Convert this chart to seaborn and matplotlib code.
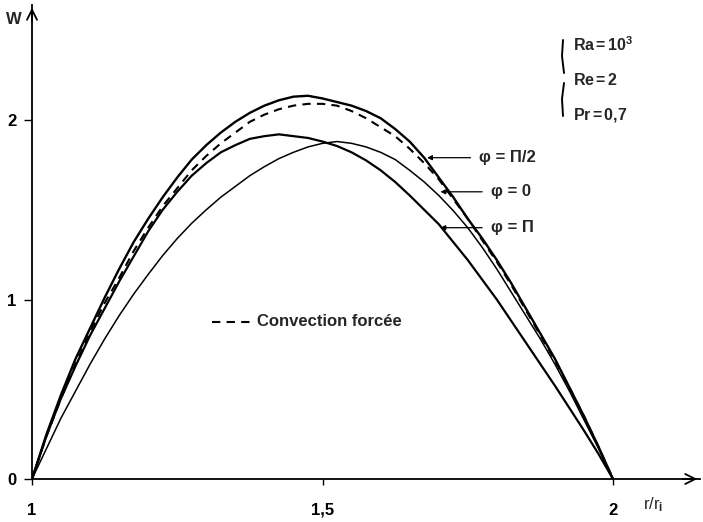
import numpy as np
import pandas as pd
import matplotlib
matplotlib.use("Agg")
import matplotlib.pyplot as plt
import seaborn as sns

# ---- data (r/ri, W) ----
r = [1.000, 1.025, 1.050, 1.075, 1.100, 1.125, 1.150, 1.175, 1.200, 1.225,
     1.250, 1.275, 1.300, 1.325, 1.350, 1.375, 1.400, 1.425, 1.450, 1.475,
     1.500, 1.525, 1.550, 1.575, 1.600, 1.625, 1.650, 1.675, 1.700, 1.725,
     1.750, 1.775, 1.800, 1.825, 1.850, 1.875, 1.900, 1.925, 1.950, 1.975,
     2.000]
w_phi_pi2 = [0.00, 0.25, 0.47, 0.67, 0.84, 1.01, 1.17, 1.32, 1.45, 1.57,
             1.68, 1.78, 1.86, 1.93, 1.99, 2.04, 2.08, 2.11, 2.13, 2.135,
             2.12, 2.10, 2.08, 2.05, 2.01, 1.95, 1.88, 1.79, 1.68, 1.57,
             1.45, 1.34, 1.22, 1.09, 0.95, 0.81, 0.67, 0.51, 0.35, 0.18,
             0.00]
w_forced = [0.00, 0.24, 0.45, 0.64, 0.82, 0.98, 1.12, 1.27, 1.40, 1.52,
            1.62, 1.72, 1.80, 1.87, 1.93, 1.99, 2.03, 2.06, 2.08, 2.09,
            2.09, 2.08, 2.05, 2.01, 1.96, 1.91, 1.84, 1.76, 1.67, 1.56,
            1.45, 1.33, 1.21, 1.08, 0.94, 0.80, 0.66, 0.51, 0.35, 0.18,
            0.00]
w_phi_0 = [0.00, 0.17, 0.34, 0.49, 0.64, 0.78, 0.91, 1.03, 1.14, 1.245,
           1.34, 1.425, 1.50, 1.57, 1.63, 1.69, 1.74, 1.785, 1.82, 1.85,
           1.87, 1.88, 1.87, 1.85, 1.82, 1.78, 1.72, 1.655, 1.58, 1.495,
           1.40, 1.29, 1.17, 1.04, 0.91, 0.78, 0.64, 0.49, 0.33, 0.17,
           0.00]
w_phi_pi = [0.00, 0.24, 0.45, 0.63, 0.80, 0.95, 1.10, 1.24, 1.38, 1.50,
            1.60, 1.69, 1.76, 1.82, 1.86, 1.895, 1.91, 1.92, 1.91, 1.90,
            1.88, 1.855, 1.82, 1.775, 1.72, 1.655, 1.58, 1.50, 1.42, 1.32,
            1.22, 1.11, 1.00, 0.88, 0.76, 0.64, 0.52, 0.395, 0.27, 0.14,
            0.00]

xticks = [1, 1.5, 2]
xticklabels = ["1", "1,5", "2"]
yticks = [0, 1, 2]
yticklabels = ["0", "1", "2"]
params = ["Ra$\\,$=$\\,$10$^{3}$", "Re$\\,$=$\\,$2", "Pr$\\,$=$\\,$0,7"]

sns.set_theme(style="white")
plt.rcParams["font.family"] = ["Liberation Sans", "DejaVu Sans"]
plt.rcParams["mathtext.fontset"] = "custom"
plt.rcParams["mathtext.rm"] = "Liberation Sans:bold"
plt.rcParams["mathtext.it"] = "Liberation Sans:bold"

fig = plt.figure(figsize=(7.03, 5.22), dpi=100)
ax = fig.add_axes([32 / 703, 43 / 522, 668 / 703, 474 / 522])

df = pd.DataFrame({"r": r, "pi2": w_phi_pi2, "forced": w_forced,
                   "zero": w_phi_0, "pi": w_phi_pi})

kw = dict(ax=ax, color="black", sort=False, solid_joinstyle="round",
          solid_capstyle="round")
sns.lineplot(data=df, x="r", y="pi2", lw=1.7, **kw)
sns.lineplot(data=df, x="r", y="forced", ax=ax, color="black", lw=1.5,
             linestyle=(0, (4, 3)), sort=False)
sns.lineplot(data=df, x="r", y="pi", lw=1.6, **kw)
sns.lineplot(data=df, x="r", y="zero", lw=1.1, **kw)

ax.set_xlim(1, 1 + 668 / 581)
ax.set_ylim(0, 474 / 179.5)

for s in ["top", "right"]:
    ax.spines[s].set_visible(False)
for s in ["left", "bottom"]:
    ax.spines[s].set_linewidth(1.3)
    ax.spines[s].set_color("black")

# axis arrows
ax.annotate("", xy=(1.0, 0), xytext=(0.97, 0), xycoords="axes fraction",
            arrowprops=dict(arrowstyle="->", color="black", lw=1.3,
                            mutation_scale=18))
ax.annotate("", xy=(0, 1.0), xytext=(0, 0.96), xycoords="axes fraction",
            arrowprops=dict(arrowstyle="->", color="black", lw=1.3,
                            mutation_scale=18))

ax.set_xticks(xticks)
ax.set_xticklabels(xticklabels, fontweight="bold", fontsize=12)
ax.set_yticks(yticks)
ax.set_yticklabels(yticklabels, fontweight="bold", fontsize=12)
ax.tick_params(axis="x", direction="out", length=4, width=1, pad=13,
               bottom=True, colors="black")
ax.tick_params(axis="y", direction="out", length=6, width=1, pad=5,
               left=True, colors="black")
ax.set_xlabel("")
ax.set_ylabel("")

fig.text(14 / 703, 1 - 20 / 522, "W", fontsize=12, fontweight="bold",
         ha="center", va="center")
fig.text(653 / 703, 1 - 505 / 522, "r/r$_{\\rm i}$", fontsize=12,
         ha="center", va="center")

# parameter block with brace
for i, t in enumerate(params):
    fig.text(573 / 703, 1 - (45 + 35 * i) / 522, t, fontsize=11.5,
             fontweight="bold", ha="left", va="center")
fig.add_artist(plt.Line2D([563 / 703, 562 / 703, 564 / 703],
                          [1 - 40 / 522, 1 - 56 / 522, 1 - 73 / 522],
                          color="black", lw=1.4))
fig.add_artist(plt.Line2D([564 / 703, 562 / 703, 563 / 703],
                          [1 - 83 / 522, 1 - 99 / 522, 1 - 116 / 522],
                          color="black", lw=1.4))

# curve labels with pointers
labels = [("φ = Π/2", 1.68, 1.79, 1.77),
          ("φ = 0", 1.703, 1.60, 1.79),
          ("φ = Π", 1.703, 1.40, 1.79)]
for txt, x0, y0, xt in labels:
    ax.annotate(txt, xy=(x0, y0), xytext=(xt, y0), fontsize=12,
                fontweight="bold", va="center", ha="left",
                arrowprops=dict(arrowstyle="-|>", color="black", lw=0.9,
                                mutation_scale=7, shrinkA=4, shrinkB=0))

# legend for forced convection
ax.plot([1.310, 1.378], [0.875, 0.875], color="black", lw=1.5,
        linestyle=(0, (4, 3)))
ax.text(1.387, 0.875, "Convection forcée", fontsize=12, fontweight="bold",
        va="center", ha="left")

fig.savefig("out.png", dpi=100)
